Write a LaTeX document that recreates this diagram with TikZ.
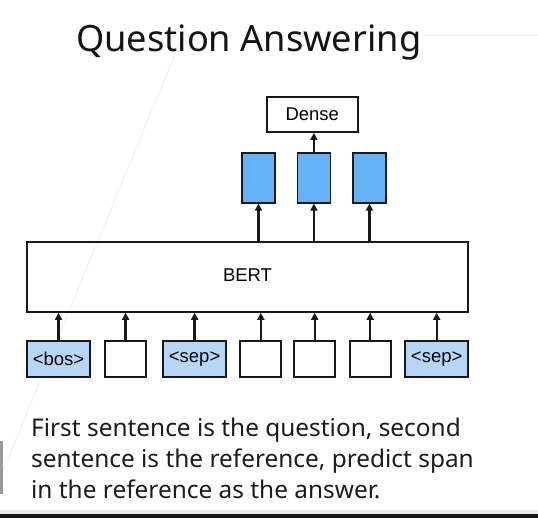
\documentclass[tikz,border=0pt]{standalone}
\usepackage{fontspec}
\setmainfont{Liberation Sans}
\newfontfamily\slidefont{Noto Sans}
\usetikzlibrary{arrows.meta,positioning}
\definecolor{TokenColor}{RGB}{182,213,247}
\definecolor{HiddenColor}{RGB}{99,178,246}
\definecolor{SlideText}{RGB}{28,28,28}
\tikzset{
  tokbox/.style={draw=black!90, line width=1.8pt, inner sep=0pt, minimum height=36pt, font=\fontsize{18.5}{18.5}\selectfont},
  hidbox/.style={draw=black!90, line width=1.8pt, fill=HiddenColor, minimum width=33pt, minimum height=50pt},
  plainbox/.style={draw=black!90, line width=1.8pt, inner sep=0pt, font=\fontsize{18.5}{18.5}\selectfont},
  uparrow/.style={-{Triangle[length=7pt,width=7pt]}, line width=2.4pt, black!90},
  bodytext/.style={anchor=base west, inner sep=0pt, text=SlideText, font=\slidefont\fontsize{24.4}{24.4}\selectfont},
}
\begin{document}
\begin{tikzpicture}[x=1pt, y=-1pt]
    \useasboundingbox[fill=white] (0,0) rectangle (538,518);
    % faint slide lines
    \draw[black!7, line width=0.8pt] (423,35)--(538,35);
    \draw[black!6, line width=0.8pt] (185,30)--(0,478);
    \fill[black!40] (0,441) rectangle (3.3,494);
    \fill[black!8] (0,510) rectangle (538,514);
    \fill[black!90] (0,514) rectangle (538,518);
    % title
    \node[anchor=base west, inner sep=0pt, text=black!92, font=\slidefont\fontsize{36.2}{36.2}\selectfont] (title) at (76,51.7) {Question Answering};
    % encoder
    \node[plainbox, minimum width=441pt, minimum height=70pt] (bert) at (247.5,276.9) {\raisebox{3pt}{BERT}};
    \foreach \i/\x/\w/\f/\lab in {
      1/58.5/63/TokenColor/{<bos>},
      2/125.6/41/white/{},
      3/194.6/63/TokenColor/{<sep>},
      4/260.8/41/white/{},
      5/314.7/41/white/{},
      6/370.2/41/white/{},
      7/436.7/63/TokenColor/{<sep>}
    }{
      \node[tokbox, fill=\f, minimum width=\w pt] (tok\i) at (\x,358.7) {\lab};
      \draw[uparrow] (tok\i.north)--(tok\i.north |- bert.south);
    }
    \foreach \i/\x in {4/258.5,5/313.9,6/369.5} {
      \node[hidbox] (hid\i) at (\x,177.7) {};
      \draw[uparrow] (hid\i.south |- bert.north)--(hid\i.south);
    }
    \node[plainbox, minimum width=91pt, minimum height=35pt] (dense) at (312.3,114.5) {Dense};
    \draw[uparrow] (hid5.north)--(hid5.north |- dense.south);
    % caption
    \node[bodytext] (line1) at (31,436.7) {First sentence is the question, second};
    \node[bodytext] (line2) at (31,467.7) {sentence is the reference, predict span};
    \node[bodytext] (line3) at (31,498.3) {in the reference as the answer.};
\end{tikzpicture}
\end{document}
